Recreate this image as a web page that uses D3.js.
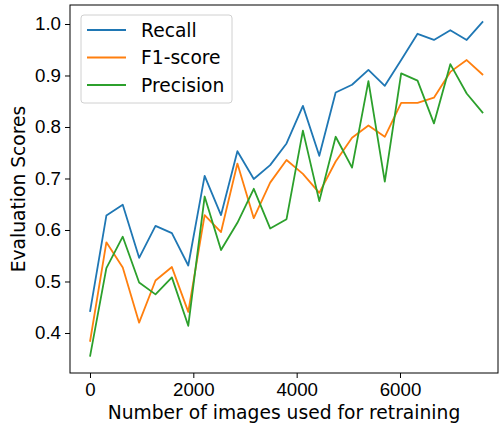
<!DOCTYPE html>
<html>
<head>
<meta charset="utf-8">
<script src="https://cdn.jsdelivr.net/npm/d3@7"></script>
<style>
  body { margin: 0; background: #fff; }
  svg { display: block; font-family: "DejaVu Sans", sans-serif; }
</style>
</head>
<body>
<div id="chart"></div>
<script>
// number of retraining images (x) and scores per metric
const imageCounts = d3.range(25).map(i => i * 317);
const recall = [0.441, 0.628, 0.649, 0.546, 0.608, 0.594, 0.531, 0.705, 0.629, 0.753,
  0.699, 0.726, 0.768, 0.841, 0.744, 0.867, 0.882, 0.911, 0.880, 0.930,
  0.981, 0.969, 0.988, 0.969, 1.005];
const f1score = [0.383, 0.576, 0.527, 0.420, 0.502, 0.528, 0.441, 0.629, 0.596, 0.729,
  0.623, 0.692, 0.736, 0.709, 0.672, 0.733, 0.779, 0.803, 0.781, 0.847,
  0.847, 0.857, 0.907, 0.930, 0.901];
const precision = [0.354, 0.526, 0.587, 0.498, 0.475, 0.508, 0.414, 0.665, 0.561, 0.614,
  0.680, 0.603, 0.621, 0.793, 0.656, 0.781, 0.721, 0.889, 0.694, 0.904,
  0.890, 0.807, 0.922, 0.865, 0.827];
const seriesNames = ["Recall", "F1-score", "Precision"];
const seriesColors = ["#1f77b4", "#ff7f0e", "#2ca02c"];
const xTicks = [0, 2000, 4000, 6000];
const yTicks = [0.4, 0.5, 0.6, 0.7, 0.8, 0.9, 1.0];

const W = 499, H = 426;
const margin = { left: 70, right: 1, top: 5, bottom: 53 };
const width = W - margin.left - margin.right;
const height = H - margin.top - margin.bottom;
const fontSize = "18.7px";

const svg = d3.select("#chart").append("svg")
  .attr("width", W).attr("height", H);

const g = svg.append("g")
  .attr("transform", `translate(${margin.left},${margin.top})`);

const x = d3.scaleLinear().domain([-387, 7897]).range([0, width]);
const y = d3.scaleLinear().domain([0.3223, 1.0369]).range([height, 0]);

const allSeries = [recall, f1score, precision];

const line = d3.line()
  .x((d, i) => x(imageCounts[i]))
  .y(d => y(d));

allSeries.forEach((s, k) => {
  g.append("path")
    .datum(s)
    .attr("fill", "none")
    .attr("stroke", seriesColors[k])
    .attr("stroke-width", 1.8)
    .attr("stroke-linejoin", "round")
    .attr("d", line);
});

// axes
const xAxis = g.append("g")
  .attr("transform", `translate(0,${height})`)
  .call(d3.axisBottom(x).tickValues(xTicks).tickFormat(d3.format("d")).tickSizeOuter(0).tickSize(5).tickPadding(5));
const yAxis = g.append("g")
  .call(d3.axisLeft(y).tickValues(yTicks).tickFormat(d3.format(".1f")).tickSizeOuter(0).tickSize(5).tickPadding(4));

[xAxis, yAxis].forEach(a => {
  a.selectAll("text").style("font-size", fontSize).attr("fill", "#000");
  a.selectAll("line").attr("stroke", "#000").attr("stroke-width", 1);
  a.select(".domain").remove();
});

// frame
g.append("rect")
  .attr("x", 0).attr("y", 0)
  .attr("width", width).attr("height", height)
  .attr("fill", "none")
  .attr("stroke", "#000")
  .attr("stroke-width", 1);

// axis labels
svg.append("text")
  .attr("x", margin.left + width / 2)
  .attr("y", 419)
  .attr("text-anchor", "middle")
  .style("font-size", fontSize)
  .text("Number of images used for retraining");

svg.append("text")
  .attr("transform", `translate(25,${margin.top + height / 2}) rotate(-90)`)
  .attr("text-anchor", "middle")
  .style("font-size", fontSize)
  .text("Evaluation Scores");

// legend
const legend = svg.append("g").attr("transform", "translate(81,15)");
legend.append("rect")
  .attr("width", 151).attr("height", 88)
  .attr("rx", 3)
  .attr("fill", "rgba(255,255,255,0.8)")
  .attr("stroke", "#d0d0d0");

seriesNames.forEach((name, k) => {
  const row = legend.append("g").attr("transform", `translate(0,${15 + k * 27.5})`);
  row.append("line")
    .attr("x1", 6).attr("x2", 45)
    .attr("stroke", seriesColors[k])
    .attr("stroke-width", 1.8);
  row.append("text")
    .attr("x", 60).attr("y", 6.5)
    .style("font-size", fontSize)
    .text(name);
});
</script>
</body>
</html>
